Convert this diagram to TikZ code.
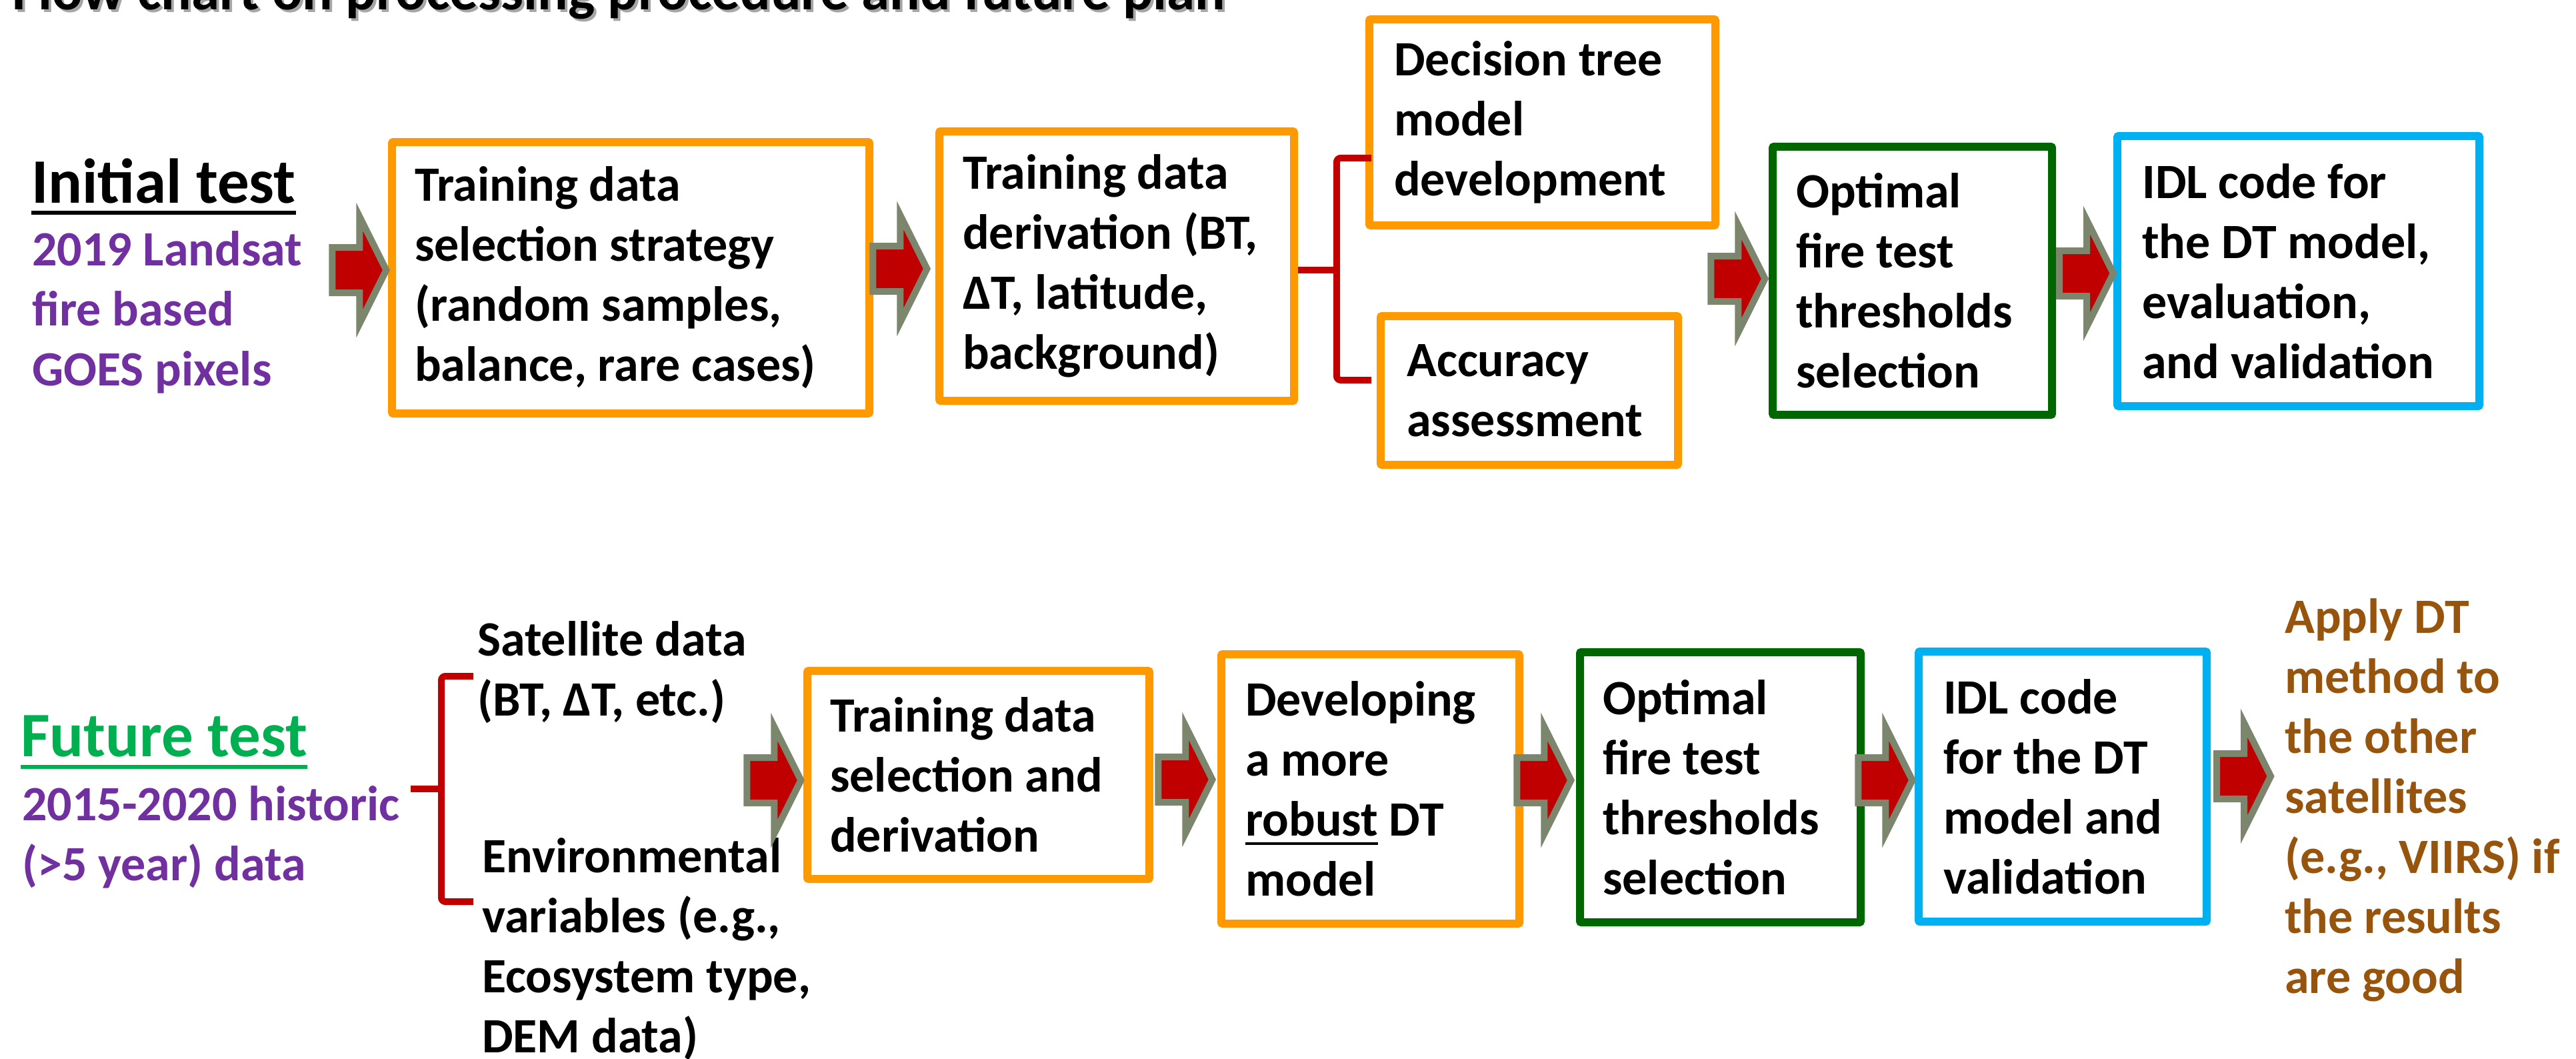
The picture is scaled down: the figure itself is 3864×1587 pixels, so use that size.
\documentclass[tikz,border=0pt]{standalone}
\usepackage{fontspec}
\setmainfont{Carlito}
\usetikzlibrary{calc}
\definecolor{orangeC}{RGB}{255,153,0}
\definecolor{greenB}{RGB}{0,102,0}
\definecolor{blueB}{RGB}{0,176,240}
\definecolor{redA}{RGB}{192,0,0}
\definecolor{greyA}{RGB}{124,134,108}
\definecolor{purpleT}{RGB}{112,48,160}
\definecolor{greenT}{RGB}{0,176,80}
\definecolor{brownT}{RGB}{150,84,12}
\newcommand\bodyf{\fontsize{74}{90}\selectfont\bfseries}
\newcommand\headf{\fontsize{95}{110}\selectfont\bfseries}
\newcommand\titlef{\fontsize{85}{100}\selectfont\bfseries}
\newcommand\myul[1]{\setbox0\hbox{#1}\rlap{\raisebox{-13pt}{\rule{\wd0}{4pt}}}\box0\relax}
\newcommand\barrow[3]{%
  \draw[barrowst] let \p1=(#1), \p2=(0,#2) in
   ({\x1-#3pt-81pt},{\y2+34pt}) -- ({\x1-#3pt-40pt},{\y2+34pt}) --
   ({\x1-#3pt-40pt},{\y2+80pt}) -- ({\x1-#3pt},{\y2}) --
   ({\x1-#3pt-40pt},{\y2-80pt}) -- ({\x1-#3pt-40pt},{\y2-34pt}) --
   ({\x1-#3pt-81pt},{\y2-34pt}) -- cycle;}
\tikzset{
  box/.style={draw, line width=12pt, rounded corners=2pt, fill=white, inner sep=0pt},
  obox/.style={box, draw=orangeC},
  gbox/.style={box, draw=greenB},
  bbox/.style={box, draw=blueB},
  txt/.style={inner sep=0pt, align=left, font=\bodyf},
  barrowst/.style={fill=redA, draw=greyA, line width=10pt, line join=miter},
  bracest/.style={draw=redA, line width=10pt},
}
\begin{document}
\begin{tikzpicture}[x=1pt,y=-1pt]
\useasboundingbox (0,0) rectangle (3864,1587);
% title
\node[inner sep=0pt, anchor=base west, font=\titlef, text=black!35] (titsh) at (22,19) {Flow chart on processing procedure and future plan};
\node[inner sep=0pt, anchor=base west, font=\titlef] (tit) at (18,15) {Flow chart on processing procedure and future plan};
% top row labels
\node[inner sep=0pt, anchor=base west, font=\headf] (it) at (47,304) {Initial test};
\draw[line width=6pt] ([yshift=-15pt]it.base west) -- ([yshift=-15pt]it.base east);
\node[txt, anchor=base west, text=purpleT] (p1) at (48,578) {2019 Landsat\\fire based\\GOES pixels};
% top row boxes
\node[obox, minimum width=716, minimum height=407] (b1) at (946,416.5) {};
\node[txt, anchor=west] (t1) at ([xshift=40pt]b1.west) {Training data\\selection strategy\\(random samples,\\balance, rare cases)};
\node[obox, minimum width=532, minimum height=404] (b2) at (1675,399) {};
\node[txt, anchor=west] (t2) at ([xshift=41pt]b2.west) {Training data\\derivation (BT,\\ΔT, latitude,\\background)};
\node[obox, minimum width=519, minimum height=309] (bdt) at (2313.5,183.5) {};
\node[txt, anchor=west] (tdt) at ([xshift=43pt]bdt.west) {Decision tree\\model\\development};
\node[obox, minimum width=446, minimum height=223] (bacc) at (2294,585.5) {};
\node[txt, anchor=west] (tacc) at ([xshift=45pt]bacc.west) {Accuracy\\assessment};
\node[gbox, minimum width=419, minimum height=402] (g1) at (2868.5,421) {};
\node[txt, anchor=west] (tg1) at ([xshift=41pt]g1.west) {Optimal\\fire test\\thresholds\\selection};
\node[bbox, minimum width=543, minimum height=405] (bl1) at (3447.5,406.5) {};
\node[txt, anchor=west] (tbl1) at ([xshift=43pt]bl1.west) {IDL code for\\the DT model,\\evaluation,\\and validation};
% top brace
\coordinate (brtop) at (2057,237);
\coordinate (brbot) at (2057,570);
\draw[bracest, rounded corners=6pt] (brtop) -- (2005,237) -- (2005,570) -- (brbot);
\draw[bracest] ([yshift=-6pt]b2.east) -- (2005,405);
% top arrows
\barrow{b1.west}{405}{2.6}
\barrow{b2.west}{403}{12.6}
\barrow{g1.west}{418}{5.6}
\barrow{bl1.west}{410}{0}
% bottom row labels
\node[inner sep=0pt, anchor=base west, font=\headf, text=greenT] (ft) at (31,1134) {Future test};
\draw[line width=6pt, greenT] ([yshift=-16pt]ft.base west) -- ([yshift=-16pt]ft.base east);
\node[txt, anchor=base west, text=purpleT] (p2) at (33,1320) {2015-2020 historic\\(>5 year) data};
\node[txt, anchor=base west] (sat) at (716,1073) {Satellite data\\(BT, ΔT, etc.)};
\node[txt, anchor=base west] (env) at (723,1578) {Environmental\\variables (e.g.,\\Ecosystem type,\\DEM data)};
% bottom brace
\coordinate (bbtop) at (710,1014);
\coordinate (bbbot) at (710,1352);
\coordinate (bbtip) at (616,1183);
\draw[bracest, rounded corners=6pt] (bbtop) -- (662,1014) -- (662,1352) -- (bbbot);
\draw[bracest] (bbtip) -- (662,1183);
% bottom boxes
\node[obox, minimum width=513, minimum height=312] (b5) at (1467.5,1162) {};
\node[txt, anchor=west] (t5) at ([xshift=40pt]b5.west) {Training data\\selection and\\derivation};
\node[obox, minimum width=447, minimum height=404] (b6) at (2055.5,1183) {};
\node[txt, anchor=west] (t6) at ([xshift=42pt]b6.west) {Developing\\a more\\\myul{robust} DT\\model};
\node[gbox, minimum width=421, minimum height=405] (g2) at (2580.5,1180.5) {};
\node[txt, anchor=west] (tg2) at ([xshift=40pt]g2.west) {Optimal\\fire test\\thresholds\\selection};
\node[bbox, minimum width=432, minimum height=405] (bl2) at (3094,1179.5) {};
\node[txt, anchor=west] (tbl2) at ([xshift=43pt]bl2.west) {IDL code\\for the DT\\model and\\validation};
\node[txt, anchor=base west, text=brownT] (brn) at (3427,1489) {Apply DT\\method to\\the other\\satellites\\(e.g., VIIRS) if\\the results\\are good};
% bottom arrows
\barrow{b5.west}{1170}{3.6}
\barrow{b6.west}{1169}{7.6}
\barrow{g2.west}{1170}{7.6}
\barrow{bl2.west}{1170}{3.6}
\coordinate (a9tip) at (3406,1164);
\barrow{a9tip}{1164}{0}
\end{tikzpicture}
\end{document}
